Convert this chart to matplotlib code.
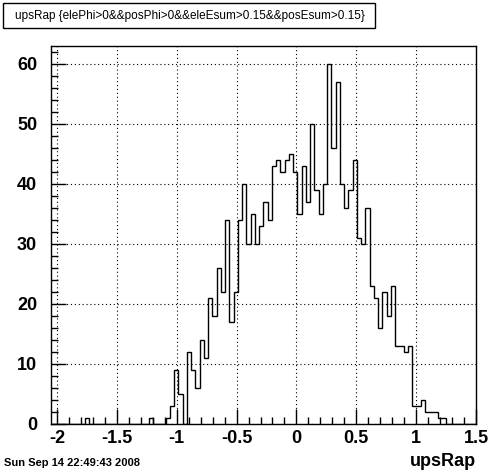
import numpy as np
import matplotlib
matplotlib.use("Agg")
import matplotlib.pyplot as plt
from matplotlib.patches import Rectangle

# histogram of upsRap, 100 bins
x_min, x_max = -2.05, 1.5
counts = [0, 0, 0, 0, 0, 0, 0, 0, 1, 0,
          0, 0, 0, 0, 0, 0, 0, 0, 0, 0,
          0, 0, 0, 1, 0, 0, 0, 1, 3, 9,
          5, 0, 12, 9, 6, 14, 11, 21, 18, 26,
          22, 34, 17, 22, 34, 40, 30, 35, 30, 33,
          37, 34, 43, 44, 42, 44, 45, 42, 35, 43,
          37, 50, 39, 35, 40, 60, 46, 57, 40, 36,
          39, 44, 31, 30, 36, 23, 21, 16, 22, 18,
          23, 13, 13, 12, 13, 3, 3, 4, 2, 2,
          2, 1, 1, 0, 0, 0, 0, 0, 0, 0]
edges = np.linspace(x_min, x_max, len(counts) + 1)

x_ticks = [-2, -1.5, -1, -0.5, 0, 0.5, 1, 1.5]
x_labels = ["-2", "-1.5", "-1", "-0.5", "0", "0.5", "1", "1.5"]
y_ticks = [0, 10, 20, 30, 40, 50, 60]

title = "upsRap {elePhi>0&&posPhi>0&&eleEsum>0.15&&posEsum>0.15}"
date_text = "Sun Sep 14 22:49:43 2008"

plt.rcParams["font.family"] = ["Liberation Sans", "DejaVu Sans"]

fig = plt.figure(figsize=(4.98, 4.72), dpi=100)
ax = fig.add_axes([51 / 498, 48 / 472, 425 / 498, 378 / 472])

ax.stairs(counts, edges, color="black", lw=1.0)

ax.set_xlim(x_min, x_max)
ax.set_ylim(0, max(counts) * 1.05)

ax.set_xticks(x_ticks)
ax.set_xticklabels(x_labels)
ax.set_yticks(y_ticks)
ax.set_xticks(np.arange(-2.0, 1.51, 0.1), minor=True)
ax.set_yticks(np.arange(0, 63, 2), minor=True)

ax.grid(True, which="major", color="black", linestyle=(0, (1, 2.5)), lw=0.8)
ax.tick_params(which="both", direction="in", color="black")
ax.tick_params(which="major", length=11, width=1)
ax.tick_params(which="minor", length=5, width=1)
ax.tick_params(axis="x", which="major", pad=4)
ax.tick_params(axis="y", which="major", pad=10)
for lab in ax.get_xticklabels() + ax.get_yticklabels():
    lab.set_fontweight("bold")
    lab.set_fontsize(13)

for sp in ax.spines.values():
    sp.set_linewidth(1.0)
    sp.set_color("black")

# title box
fig.patches.append(Rectangle((3 / 498, 1 - 28 / 472), 372 / 498, 25 / 472,
                             transform=fig.transFigure, facecolor="white",
                             edgecolor="black", lw=1.0))
fig.text(190 / 498, 1 - 15.5 / 472, title, ha="center", va="center", fontsize=8.5)

fig.text(476 / 498, 1 - 461 / 472, "upsRap", ha="right", va="center",
         fontsize=13, fontweight="bold")
fig.text(4 / 498, 1 - 463 / 472, date_text, ha="left", va="center",
         fontsize=8, fontweight="bold")

fig.savefig("out.png", dpi=100)
